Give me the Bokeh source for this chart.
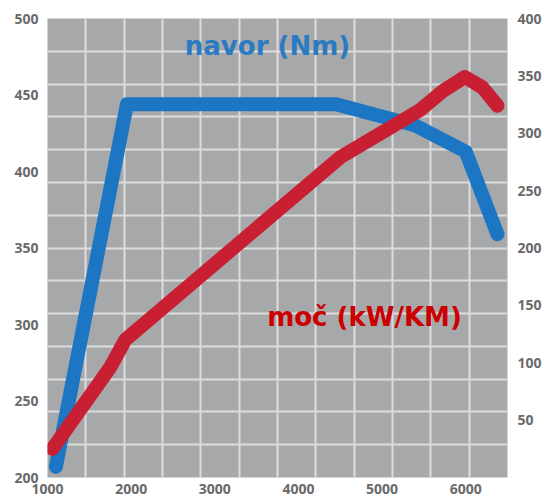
import numpy as np
from bokeh.plotting import figure
from bokeh.models import Range1d, LinearAxis, FixedTicker, Label
from bokeh.embed import file_html
from bokeh.resources import INLINE

# --- data ---
rpm_torque = [1100, 1950, 4450, 5400, 6000, 6380]
torque_nm = [207, 444, 444, 430, 413, 359]

rpm_power = [1060, 1750, 1930, 4500, 5450, 5730, 5990, 6200, 6380]
power_kw = [25, 96, 120, 279, 320, 337, 349, 340, 324]

x_ticks = [1000, 2000, 3000, 4000, 5000, 6000]
left_ticks = [200, 250, 300, 350, 400, 450, 500]
right_ticks = [50, 100, 150, 200, 250, 300, 350, 400]

torque_label = "navor (Nm)"
power_label = "moč (kW/KM)"

BLUE = "#1d76c4"
RED = "#c81f33"
BG = "#a7a8aa"
GRID = "#dcdcdc"
TICK = "#6a6a6a"

p = figure(width=544, height=501, output_backend="svg", toolbar_location=None,
           x_range=Range1d(1000, 6500), y_range=Range1d(200, 500),
           min_border_left=47, min_border_right=37, min_border_top=18, min_border_bottom=24)
p.extra_y_ranges = {"power": Range1d(0, 400)}

p.background_fill_color = BG
p.border_fill_color = "white"
p.outline_line_color = None

# grid: decorative even subdivision of the frame
p.xgrid.ticker = FixedTicker(ticks=list(np.linspace(1000, 6500, 13)))
p.ygrid.ticker = FixedTicker(ticks=list(np.linspace(200, 500, 15)))
for g in (p.xgrid, p.ygrid):
    g.grid_line_color = GRID
    g.grid_line_width = 2

def style_axis(ax, standoff, size="14px"):
    ax.axis_line_color = None
    ax.major_tick_line_color = None
    ax.minor_tick_line_color = None
    ax.major_tick_out = 0
    ax.major_tick_in = 0
    ax.major_label_text_color = TICK
    ax.major_label_text_font = "Open Sans"
    ax.major_label_text_font_style = "bold"
    ax.major_label_text_font_size = size
    ax.major_label_standoff = standoff

p.xaxis.ticker = FixedTicker(ticks=x_ticks)
p.yaxis.ticker = FixedTicker(ticks=left_ticks)
style_axis(p.xaxis[0], 6)
style_axis(p.yaxis[0], 9)

right = LinearAxis(y_range_name="power", ticker=FixedTicker(ticks=right_ticks))
style_axis(right, 10, "14px")
p.add_layout(right, "right")

p.line(rpm_torque, torque_nm, line_width=14, line_color=BLUE,
       line_cap="round", line_join="round")
p.line(rpm_power, power_kw, y_range_name="power", line_width=14, line_color=RED,
       line_cap="round", line_join="round")

p.add_layout(Label(x=3630, y=482, text=torque_label, text_align="center",
                   text_baseline="middle", text_color="#2a7bc1",
                   text_font="DejaVu Sans", text_font_style="bold",
                   text_font_size="26px"))
p.add_layout(Label(x=4790, y=305, text=power_label, text_align="center",
                   text_baseline="middle", text_color="#cc0000",
                   text_font="DejaVu Sans", text_font_style="bold",
                   text_font_size="26px"))

open("out.html", "w").write(file_html(p, INLINE))
